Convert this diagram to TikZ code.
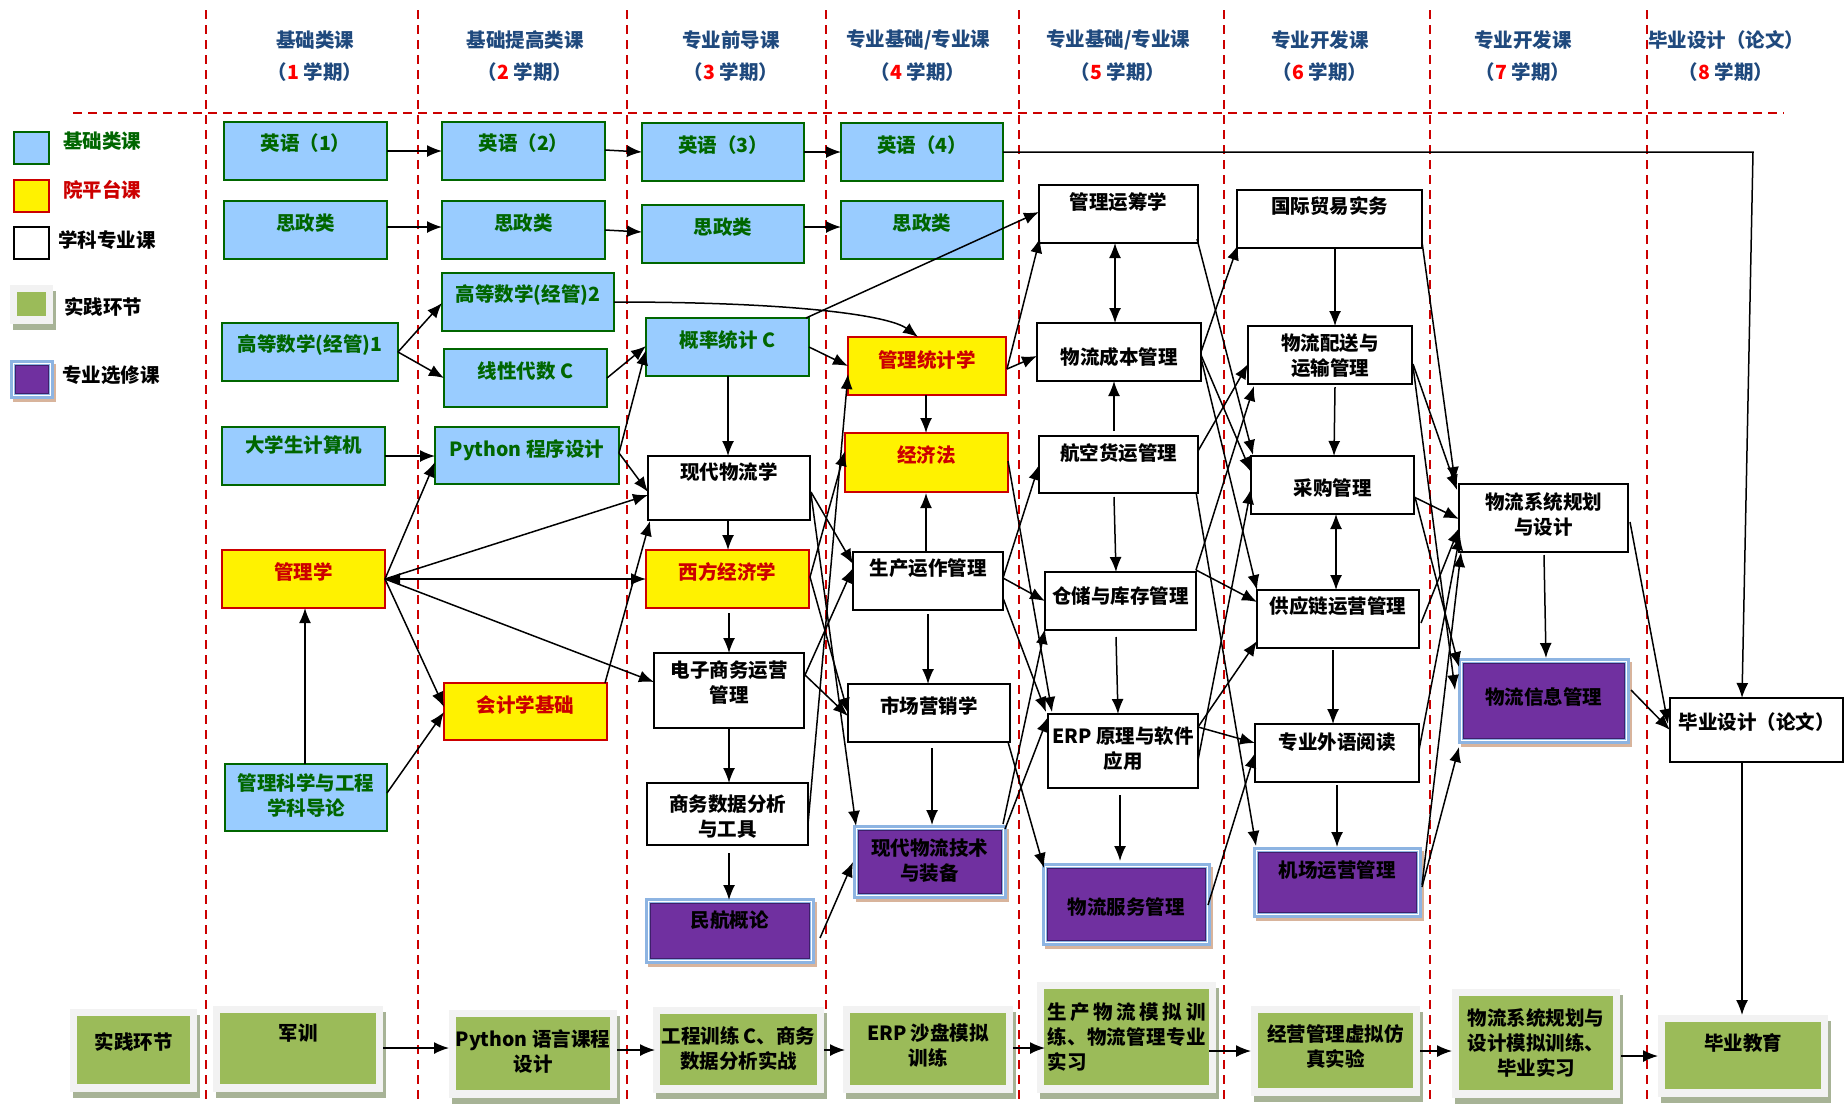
\documentclass[tikz,border=0pt]{standalone}
\usepackage{fontspec}
\newfontfamily\cjk{Noto Sans CJK SC}
\usetikzlibrary{calc,arrows.meta,shadows}
\definecolor{bfill}{HTML}{99CCFF}
\definecolor{bgreen}{HTML}{006600}
\definecolor{yred}{HTML}{CC0000}
\definecolor{hblue}{HTML}{1F497D}
\definecolor{dred}{HTML}{CC0000}
\definecolor{nred}{HTML}{FF0000}
\definecolor{pgreen}{HTML}{9BBB59}
\definecolor{pframe}{HTML}{F2F2F2}
\definecolor{pshadow}{HTML}{A7B396}
\definecolor{vpurple}{HTML}{7030A0}
\definecolor{vframe}{HTML}{8DB4E2}
\definecolor{vshadow}{HTML}{D8B49C}
\definecolor{vline}{HTML}{3F1F6B}
\tikzset{
 f/.style={font=\cjk\bfseries\fontsize{19.5}{25}\selectfont, inner sep=0pt, align=center},
 bluebox/.style={draw=bgreen, fill=bfill, line width=1.8pt, inner sep=0pt, outer sep=0pt},
 bluebox-t/.style={f, text=bgreen},
 yelbox/.style={draw=yred, fill=yellow, line width=1.8pt, inner sep=0pt, outer sep=0pt},
 yelbox-t/.style={f, text=yred},
 whtbox/.style={draw=black, fill=white, line width=1.8pt, inner sep=0pt, outer sep=0pt},
 whtbox-t/.style={f, text=black},
 purbox/.style={fill=vframe, draw=vframe, line width=1pt, inner sep=0pt, outer sep=0pt,
   general shadow={fill=vshadow, shadow xshift=3pt, shadow yshift=-4pt},
   path picture={
     \draw[white, line width=1pt] ($(path picture bounding box.south west)+(3,-3)$) rectangle ($(path picture bounding box.north east)+(-3,3)$);
     \fill[vpurple] ($(path picture bounding box.south west)+(5,-5)$) rectangle ($(path picture bounding box.north east)+(-5,5)$);
     \draw[vline, line width=1pt] ($(path picture bounding box.south west)+(5,-5)$) rectangle ($(path picture bounding box.north east)+(-5,5)$);
   }},
 purbox-t/.style={f, text=black},
 grnbox/.style={fill=pframe, draw=none, inner sep=0pt, outer sep=0pt,
   general shadow={fill=pshadow, shadow xshift=3pt, shadow yshift=-6pt},
   path picture={
     \fill[pgreen] ($(path picture bounding box.south west)+(7,-8)$) rectangle ($(path picture bounding box.north east)+(-7,7)$);
   }},
 grnbox-t/.style={f, text=black},
 arr/.style={line width=1.5pt, -{Latex[length=15pt,width=12pt]}},
 darr/.style={line width=1.5pt, {Latex[length=15pt,width=12pt]}-{Latex[length=15pt,width=12pt]}},
 vdash/.style={draw=dred, line width=1.8pt, dash pattern=on 9pt off 6pt},
 hd/.style={f, text=hblue},
}
\newcommand\bx[8]{%
 \node[#1, anchor=north west, minimum width={#5-#3}, minimum height={#6-#4}] (#2) at (#3,#4) {};
 \node[#1-t] (#2-t) at ($(#2.north)+(0,#7)$) {#8};
}
\newcommand\R[3]{($(#1.north west)+(#2,#3)$)}
\begin{document}
\begin{tikzpicture}[x=1pt,y=-1pt]
\useasboundingbox (0,0) rectangle (1845,1104);
\fill[white] (0,0) rectangle (1845,1104);
% grid
\foreach \xx in {206,418,627,826,1019,1224,1430,1647} {\draw[vdash] (\xx,10) -- (\xx,1104);}
\draw[vdash] (73,113) -- (1784,113);
% headers
\node[hd] (h1) at (315,40) {基础类课};
\node[hd] (h1b) at (315,72) {（\textcolor{nred}{1} 学期）};
\node[hd] (h2) at (525,40) {基础提高类课};
\node[hd] (h2b) at (525,72) {（\textcolor{nred}{2} 学期）};
\node[hd] (h3) at (731,40) {专业前导课};
\node[hd] (h3b) at (731,72) {（\textcolor{nred}{3} 学期）};
\node[hd] (h4) at (918,40) {专业基础/专业课};
\node[hd] (h4b) at (918,72) {（\textcolor{nred}{4} 学期）};
\node[hd] (h5) at (1118,40) {专业基础/专业课};
\node[hd] (h5b) at (1118,72) {（\textcolor{nred}{5} 学期）};
\node[hd] (h6) at (1320,40) {专业开发课};
\node[hd] (h6b) at (1320,72) {（\textcolor{nred}{6} 学期）};
\node[hd] (h7) at (1523,40) {专业开发课};
\node[hd] (h7b) at (1523,72) {（\textcolor{nred}{7} 学期）};
\node[hd] (h8) at (1726,40) {毕业设计（论文）};
\node[hd] (h8b) at (1726,72) {（\textcolor{nred}{8} 学期）};
% legend
\node[bluebox, anchor=north west, minimum width=35, minimum height=32] (lg1) at (14,132) {};
\node[f, text=bgreen, anchor=west] (lg1-t) at (63,141) {基础类课};
\node[yelbox, anchor=north west, minimum width=35, minimum height=32] (lg2) at (14,180) {};
\node[f, text=yred, anchor=west] (lg2-t) at (63,190) {院平台课};
\node[whtbox, anchor=north west, minimum width=35, minimum height=32] (lg3) at (14,227) {};
\node[f, text=black, anchor=west] (lg3-t) at (58,240) {学科专业课};
\node[grnbox, anchor=north west, minimum width=43, minimum height=39] (lg4) at (10,285) {};
\node[f, text=black, anchor=west] (lg4-t) at (64,307) {实践环节};
\node[purbox, anchor=north west, minimum width=43, minimum height=38] (lg5) at (10,360) {};
\node[f, text=black, anchor=west] (lg5-t) at (62,375) {专业选修课};
% column 1
\bx{bluebox}{b11}{224}{122}{387}{180}{21}{英语（1）}
\bx{bluebox}{b12}{224}{201}{387}{259}{22}{思政类}
\bx{bluebox}{b13}{222}{323}{398}{381}{22}{高等数学(经管)1}
\bx{bluebox}{b14}{222}{427}{385}{485}{18}{大学生计算机}
\bx{yelbox}{b15}{222}{550}{385}{608}{22}{管理学}
\bx{bluebox}{b16}{225}{764}{387}{831}{31}{管理科学与工程\\学科导论}
% column 2
\bx{bluebox}{b21}{442}{122}{605}{180}{21}{英语（2）}
\bx{bluebox}{b22}{442}{201}{605}{259}{22}{思政类}
\bx{bluebox}{b23}{442}{273}{614}{331}{22}{高等数学(经管)2}
\bx{bluebox}{b24}{444}{349}{607}{407}{22}{线性代数 C}
\bx{bluebox}{b25}{435}{427}{619}{484}{23}{Python 程序设计}
\bx{yelbox}{b26}{444}{683}{607}{740}{22}{会计学基础}
% column 3
\bx{bluebox}{b31}{642}{123}{804}{181}{22}{英语（3）}
\bx{bluebox}{b32}{642}{205}{804}{263}{22}{思政类}
\bx{bluebox}{b33}{646}{318}{809}{376}{22}{概率统计 C}
\bx{whtbox}{b34}{648}{456}{810}{520}{16}{现代物流学}
\bx{yelbox}{b35}{646}{550}{809}{608}{22}{西方经济学}
\bx{whtbox}{b36}{654}{653}{804}{728}{30}{电子商务运营\\管理}
\bx{whtbox}{b37}{647}{783}{808}{845}{34}{商务数据分析\\与工具}
\bx{purbox}{b38}{645}{898}{814}{963}{22}{民航概论}
% column 4
\bx{bluebox}{b41}{841}{123}{1003}{181}{22}{英语（4）}
\bx{bluebox}{b42}{841}{201}{1003}{259}{22}{思政类}
\bx{yelbox}{b43}{848}{337}{1006}{395}{23}{管理统计学}
\bx{yelbox}{b44}{845}{433}{1008}{492}{22}{经济法}
\bx{whtbox}{b45}{853}{552}{1003}{610}{16}{生产运作管理}
\bx{whtbox}{b46}{848}{684}{1010}{742}{22}{市场营销学}
\bx{purbox}{b47}{853}{825}{1006}{898}{36}{现代物流技术\\与装备}
% column 5
\bx{whtbox}{b51}{1039}{185}{1198}{243}{17}{管理运筹学}
\bx{whtbox}{b52}{1037}{323}{1201}{381}{34}{物流成本管理}
\bx{whtbox}{b53}{1039}{436}{1198}{493}{17}{航空货运管理}
\bx{whtbox}{b54}{1045}{572}{1196}{630}{24}{仓储与库存管理}
\bx{whtbox}{b55}{1048}{714}{1198}{788}{35}{ERP 原理与软件\\应用}
\bx{purbox}{b56}{1042}{863}{1210}{945}{44}{物流服务管理}
% column 6
\bx{whtbox}{b61}{1237}{190}{1422}{248}{16}{国际贸易实务}
\bx{whtbox}{b62}{1248}{326}{1412}{384}{30}{物流配送与\\运输管理}
\bx{whtbox}{b63}{1251}{456}{1414}{514}{32}{采购管理}
\bx{whtbox}{b64}{1257}{590}{1419}{648}{16}{供应链运营管理}
\bx{whtbox}{b65}{1255}{724}{1419}{782}{18}{专业外语阅读}
\bx{purbox}{b66}{1253}{847}{1421}{917}{23}{机场运营管理}
% column 7, 8
\bx{whtbox}{b71}{1459}{484}{1628}{552}{30}{物流系统规划\\与设计}
\bx{purbox}{b72}{1458}{658}{1629}{743}{39}{物流信息管理}
\bx{whtbox}{b81}{1670}{698}{1843}{762}{24}{毕业设计（论文）}
% practice row
\bx{grnbox}{p0}{70}{1009}{197}{1092}{33}{实践环节}
\bx{grnbox}{p1}{213}{1006}{383}{1092}{27}{军训}
\bx{grnbox}{p2}{449}{1010}{617}{1098}{42}{Python 语言课程\\设计}
\bx{grnbox}{p3}{653}{1007}{824}{1093}{41}{工程训练 C、商务\\数据分析实战}
\bx{grnbox}{p4}{843}{1006}{1013}{1093}{40}{ERP 沙盘模拟\\训练}
\bx{grnbox}{p5}{1037}{982}{1216}{1093}{55}{\makebox[158pt][s]{生\hfill 产\hfill 物\hfill 流\hfill 模\hfill 拟\hfill 训}\\\makebox[158pt][s]{练\hfill 、\hfill 物\hfill 流\hfill 管\hfill 理\hfill 专\hfill 业}\\\makebox[158pt][l]{实习}}
\bx{grnbox}{p6}{1251}{1006}{1420}{1096}{40}{经营管理虚拟仿\\真实验}
\bx{grnbox}{p7}{1452}{989}{1620}{1098}{54}{物流系统规划与\\设计模拟训练、\\毕业实习}
\bx{grnbox}{p8}{1658}{1015}{1828}{1097}{28}{毕业教育}
% connectors
\draw[arr] \R{b11}{163}{29} -- \R{b21}{0}{29};
\draw[arr] \R{b21}{163}{28} -- \R{b31}{0}{29};
\draw[arr] \R{b31}{162}{29} -- \R{b41}{0}{29};
\coordinate (engbend) at (1753,152);
\draw[arr] \R{b41}{162}{29} -- (engbend) -- \R{b81}{72}{0};
\draw[arr] \R{b12}{163}{26} -- \R{b22}{0}{26};
\draw[arr] \R{b22}{163}{29} -- \R{b32}{0}{27};
\draw[arr] \R{b32}{162}{22} -- \R{b42}{0}{26};
\draw[arr] \R{b13}{176}{29} -- \R{b23}{0}{30};
\draw[arr] \R{b13}{176}{29} -- \R{b24}{0}{29};
\draw[arr] \R{b23}{172}{29} .. controls +(186,0) and +(-28,-21) .. \R{b43}{70}{0};
\draw[arr] \R{b24}{163}{29} -- \R{b33}{0}{28};
\draw[arr] \R{b25}{184}{26} -- \R{b33}{0}{32};
\draw[arr] \R{b25}{184}{26} -- \R{b34}{0}{36};
\draw[arr] \R{b14}{163}{29} -- \R{b25}{0}{29};
\draw[arr] \R{b15}{163}{29} -- \R{b25}{0}{35};
\draw[arr] \R{b15}{163}{29} -- \R{b34}{0}{39};
\draw[darr] \R{b15}{163}{29} -- \R{b35}{0}{29};
\draw[arr] \R{b15}{163}{29} -- \R{b36}{0}{29};
\draw[arr] \R{b15}{163}{29} -- \R{b26}{0}{24};
\draw[arr] \R{b16}{80}{0} -- \R{b15}{83}{58};
\draw[arr] \R{b16}{162}{29} -- \R{b26}{0}{29};
\draw[arr] \R{b26}{161}{0} -- \R{b34}{2}{65};
\draw[arr] \R{b33}{82}{58} -- \R{b34}{80}{0};
\draw[arr] \R{b33}{163}{29} -- \R{b43}{0}{29};
\draw[arr] \R{b33}{160}{0} -- \R{b51}{0}{27};
\draw[arr] \R{b34}{80}{64} -- \R{b35}{82}{0};
\draw[arr] \R{b35}{83}{63} -- \R{b36}{75}{0};
\draw[arr] \R{b36}{75}{75} -- \R{b37}{82}{0};
\draw[arr] \R{b37}{82}{70} -- \R{b38}{84}{2};
\draw[arr] \R{b34}{163}{36} -- \R{b45}{0}{12};
\draw[arr] \R{b34}{163}{38} -- \R{b47}{3}{1};
\draw[arr] \R{b35}{164}{27} -- \R{b44}{0}{18};
\draw[arr] \R{b35}{164}{27} -- \R{b46}{0}{29};
\draw[arr] \R{b36}{151}{22} -- \R{b45}{0}{16};
\draw[arr] \R{b36}{151}{22} -- \R{b46}{0}{32};
\draw[arr] \R{b37}{161}{41} -- \R{b43}{0}{37};
\draw[arr] \R{b38}{175}{40} -- \R{b47}{0}{37};
\draw[arr] \R{b43}{78}{58} -- \R{b44}{81}{0};
\draw[arr] \R{b45}{73}{0} -- \R{b44}{81}{60};
\draw[arr] \R{b45}{75}{62} -- \R{b46}{80}{0};
\draw[arr] \R{b46}{84}{64} -- \R{b47}{79}{0};
\draw[arr] \R{b43}{159}{32} -- \R{b51}{1}{53};
\draw[arr] \R{b43}{159}{32} -- \R{b52}{0}{33};
\draw[arr] \R{b44}{163}{28} -- \R{b55}{4}{-2};
\draw[arr] \R{b45}{150}{26} -- \R{b53}{0}{29};
\draw[arr] \R{b45}{150}{26} -- \R{b54}{0}{29};
\draw[arr] \R{b45}{150}{46} -- \R{b55}{-2}{-2};
\draw[arr] \R{b46}{160}{58} -- \R{b56}{2}{5};
\draw[arr] \R{b47}{150}{-1} -- \R{b54}{0}{57};
\draw[arr] \R{b47}{152}{4} -- \R{b55}{0}{3};
\draw[darr] \R{b51}{76}{58} -- \R{b52}{78}{0};
\draw[arr] \R{b53}{75}{-5} -- \R{b52}{77}{58};
\draw[arr] \R{b53}{75}{61} -- \R{b54}{71}{0};
\draw[arr] \R{b54}{71}{65} -- \R{b55}{70}{0};
\draw[arr] \R{b55}{72}{81} -- \R{b56}{78}{-2};
\draw[arr] \R{b52}{164}{29} -- \R{b61}{1}{55};
\draw[arr] \R{b53}{159}{15} -- \R{b62}{0}{38};
\draw[arr] \R{b54}{151}{-2} -- \R{b62}{6}{60};
\draw[arr] \R{b51}{158}{54} -- \R{b63}{2}{-1};
\draw[arr] \R{b52}{164}{32} -- \R{b63}{0}{16};
\draw[arr] \R{b55}{150}{46} -- \R{b63}{0}{33};
\draw[arr] \R{b52}{164}{35} -- \R{b64}{0}{0};
\draw[arr] \R{b54}{151}{-2} -- \R{b64}{0}{12};
\draw[arr] \R{b55}{150}{13} -- \R{b64}{0}{51};
\draw[arr] \R{b55}{150}{13} -- \R{b65}{0}{19};
\draw[arr] \R{b56}{166}{42} -- \R{b65}{0}{29};
\draw[arr] \R{b53}{157}{56} -- \R{b66}{3}{-1};
\draw[arr] \R{b61}{98}{58} -- \R{b62}{87}{0};
\draw[arr] \R{b62}{87}{61} -- \R{b63}{83}{0};
\draw[darr] \R{b63}{85}{58} -- \R{b64}{79}{0};
\draw[arr] \R{b64}{76}{60} -- \R{b65}{78}{0};
\draw[arr] \R{b65}{82}{61} -- \R{b66}{84}{0};
\draw[arr] \R{b61}{185}{52} -- \R{b71}{-4}{-2};
\draw[arr] \R{b62}{165}{38} -- \R{b71}{-2}{6};
\draw[arr] \R{b63}{163}{41} -- \R{b71}{0}{35};
\draw[arr] \R{b64}{164}{33} -- \R{b71}{0}{44};
\draw[arr] \R{b65}{164}{26} -- \R{b71}{1}{51};
\draw[arr] \R{b66}{169}{38} -- \R{b71}{2}{68};
\draw[arr] \R{b62}{165}{40} -- \R{b72}{-3}{32};
\draw[arr] \R{b63}{164}{41} -- \R{b72}{1}{9};
\draw[arr] \R{b66}{169}{40} -- \R{b72}{1}{89};
\draw[arr] \R{b71}{85}{71} -- \R{b72}{88}{0};
\draw[arr] \R{b71}{171}{38} -- \R{b81}{-2}{26};
\draw[arr] \R{b72}{173}{32} -- \R{b81}{0}{32};
\draw[arr] \R{b81}{72}{64} -- \R{p8}{84}{0};
\draw[arr] \R{p1}{170}{42} -- \R{p2}{0}{38};
\draw[arr] \R{p2}{168}{40} -- \R{p3}{2}{43};
\draw[arr] \R{p3}{171}{43} -- \R{p4}{2}{44};
\draw[arr] \R{p4}{170}{42} -- \R{p5}{8}{66};
\draw[arr] \R{p5}{172}{69} -- \R{p6}{0}{45};
\draw[arr] \R{p6}{169}{45} -- \R{p7}{0}{62};
\draw[arr] \R{p7}{169}{67} -- \R{p8}{0}{41};
\end{tikzpicture}
\end{document}
